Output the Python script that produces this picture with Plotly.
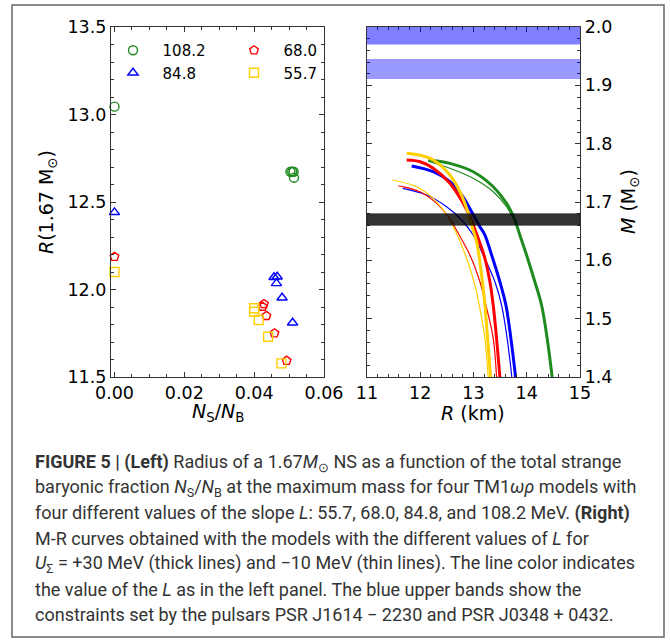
import plotly.graph_objects as go

# ---------------- data: left panel (R at 1.67 Msun vs strange fraction) ----------------
L_labels = ["108.2", "84.8", "68.0", "55.7"]
ns_1082 = [0.0, 0.0504, 0.0509, 0.0513, 0.0514]
r_1082 = [13.045, 12.673, 12.673, 12.673, 12.639]
ns_848 = [0.0, 0.0457, 0.0466, 0.0464, 0.0480, 0.0510]
r_848 = [12.441, 12.070, 12.073, 12.035, 11.953, 11.810]
ns_680 = [0.0, 0.0428, 0.0424, 0.0435, 0.0458, 0.0493]
r_680 = [12.187, 11.917, 11.902, 11.849, 11.750, 11.593]
ns_557 = [0.0, 0.0400, 0.0400, 0.0413, 0.0440, 0.0478]
r_557 = [12.100, 11.893, 11.873, 11.826, 11.730, 11.578]

# ---------------- data: right panel (M-R curves) ----------------
# thick lines: U_Sigma = +30 MeV
R_thick_557 = [11.745, 12.000, 12.244, 12.557, 12.745, 12.871, 12.964, 13.058, 13.152, 13.214, 13.265, 13.321]
M_thick_557 = [1.7835, 1.7800, 1.7720, 1.7463, 1.7176, 1.6892, 1.6606, 1.6319, 1.5748, 1.5234, 1.4663, 1.4000]
R_thick_680 = [11.745, 12.000, 12.244, 12.557, 12.807, 12.932, 13.030, 13.214, 13.308, 13.370, 13.433, 13.495]
M_thick_680 = [1.7720, 1.7690, 1.7578, 1.7320, 1.6977, 1.6748, 1.6520, 1.6035, 1.5633, 1.5234, 1.4663, 1.4000]
R_thick_848 = [11.839, 12.244, 12.557, 12.777, 12.964, 13.120, 13.214, 13.340, 13.495, 13.608, 13.702, 13.790]
M_thick_848 = [1.7617, 1.7519, 1.7348, 1.7120, 1.6834, 1.6576, 1.6434, 1.6091, 1.5633, 1.5234, 1.4663, 1.4000]
R_thick_1082 = [12.150, 12.557, 12.994, 13.370, 13.621, 13.777, 13.870, 13.996, 14.152, 14.278, 14.383, 14.477]
M_thick_1082 = [1.7720, 1.7663, 1.7519, 1.7262, 1.6977, 1.6691, 1.6434, 1.6091, 1.5633, 1.5234, 1.4663, 1.4000]
# thin lines: U_Sigma = -10 MeV
R_thin_557 = [11.482, 11.932, 12.244, 12.495, 12.651, 12.871, 13.026, 13.107, 13.214, 13.276]
M_thin_557 = [1.7377, 1.7262, 1.7063, 1.6777, 1.6520, 1.6035, 1.5577, 1.5234, 1.4663, 1.4000]
R_thin_680 = [11.587, 11.681, 11.994, 12.308, 12.525, 12.713, 12.932, 13.120, 13.233, 13.370, 13.433]
M_thin_680 = [1.7274, 1.7262, 1.7176, 1.6977, 1.6748, 1.6463, 1.6091, 1.5633, 1.5234, 1.4663, 1.4000]
R_thin_848 = [11.670, 12.120, 12.495, 12.777, 12.994, 13.182, 13.402, 13.527, 13.632, 13.720]
M_thin_848 = [1.7235, 1.7120, 1.6919, 1.6691, 1.6434, 1.6091, 1.5633, 1.5234, 1.4663, 1.4000]
R_thin_1082 = [12.150, 12.557, 12.994, 13.370, 13.621, 13.777, 13.870, 13.996, 14.152, 14.278, 14.383, 14.477]
M_thin_1082 = [1.7700, 1.7578, 1.7406, 1.7176, 1.6919, 1.6662, 1.6434, 1.6091, 1.5633, 1.5234, 1.4663, 1.4000]

# mass bands
band_J0348 = [1.97, 2.05]
band_J1614 = [1.911, 1.945]
band_167 = [1.66, 1.68]

caption_lines = [
    "<b>FIGURE 5 | (Left)</b> Radius of a 1.67<i>M</i><sub>⊙</sub> NS as a function of the total strange",
    "baryonic fraction <i>N</i><sub>S</sub>/<i>N</i><sub>B</sub> at the maximum mass for four TM1<i>ωρ</i> models with",
    "four different values of the slope <i>L</i>: 55.7, 68.0, 84.8, and 108.2 MeV. <b>(Right)</b>",
    "M-R curves obtained with the models with the different values of <i>L</i> for",
    "<i>U</i><sub>Σ</sub> = +30 MeV (thick lines) and −10 MeV (thin lines). The line color indicates",
    "the value of the <i>L</i> as in the left panel. The blue upper bands show the",
    "constraints set by the pulsars PSR J1614 − 2230 and PSR J0348 + 0432.",
]

# ---------------- styling ----------------
GREEN, BLUE, RED, YELLOW = "#1f8b1f", "#0000ff", "#ff0000", "#ffd000"
W, H = 670, 642
PL, PR, PT, PB = 111, 580, 27, 377


def fx(x):
    return (x - PL) / (PR - PL)


def fy(y):
    return (PB - y) / (PB - PT)


FONT = "DejaVu Sans"
SP = "\u2007"  # figure space: widens gap between legend symbol and label
fig = go.Figure()

marker_sets = [
    (ns_1082, r_1082, L_labels[0], GREEN, "circle-open", "legend"),
    (ns_848, r_848, L_labels[1], BLUE, "triangle-up-open", "legend"),
    (ns_680, r_680, L_labels[2], RED, "pentagon-open", "legend2"),
    (ns_557, r_557, L_labels[3], YELLOW, "square-open", "legend2"),
]
for xs, ys, name, col, sym, lg in marker_sets:
    fig.add_trace(go.Scatter(
        x=xs, y=ys, mode="markers", name=SP + name, legend=lg,
        marker=dict(symbol=sym, size=9, color=col, line=dict(width=1.4, color=col)),
        cliponaxis=False, xaxis="x", yaxis="y"))

curves = [
    (R_thick_1082, M_thick_1082, GREEN, 3.0),
    (R_thin_1082, M_thin_1082, GREEN, 1.2),
    (R_thick_848, M_thick_848, BLUE, 3.0),
    (R_thin_848, M_thin_848, BLUE, 1.2),
    (R_thick_680, M_thick_680, RED, 3.0),
    (R_thin_680, M_thin_680, RED, 1.2),
    (R_thick_557, M_thick_557, YELLOW, 3.0),
    (R_thin_557, M_thin_557, YELLOW, 1.2),
]
for xs, ys, col, lw in curves:
    fig.add_trace(go.Scatter(
        x=xs, y=ys, mode="lines", showlegend=False,
        line=dict(color=col, width=lw, shape="spline", smoothing=1.0),
        xaxis="x2", yaxis="y2"))

shapes = [
    dict(type="rect", xref="x2", yref="y2", x0=11, x1=15, y0=band_J0348[0], y1=band_J0348[1],
         fillcolor="rgba(0,0,255,0.5)", line=dict(width=0), layer="above"),
    dict(type="rect", xref="x2", yref="y2", x0=11, x1=15, y0=band_J1614[0], y1=band_J1614[1],
         fillcolor="rgba(0,0,255,0.4)", line=dict(width=0), layer="above"),
    dict(type="rect", xref="x2", yref="y2", x0=11, x1=15, y0=band_167[0], y1=band_167[1],
         fillcolor="rgba(0,0,0,0.8)", line=dict(width=1, color="rgba(0,0,0,0.45)"), layer="above"),
    # outer frame of the figure
    dict(type="rect", xref="paper", yref="paper", x0=fx(12), x1=fx(664), y0=fy(637), y1=fy(5),
         line=dict(color="#666666", width=1.5), fillcolor="rgba(0,0,0,0)", layer="below"),
]

axis_common = dict(
    showgrid=False, zeroline=False, showline=True, linecolor="#333333", linewidth=1.3,
    mirror="allticks", ticks="inside", ticklen=5, tickwidth=1, tickcolor="#333333",
    tickfont=dict(family=FONT, size=17.5, color="black"),
)

dom_split1 = (324 - PL) / (PR - PL)
dom_split2 = (367 - PL) / (PR - PL)

fig.update_layout(
    width=W, height=H,
    margin=dict(l=PL, r=W - PR, t=PT, b=H - PB, pad=0),
    paper_bgcolor="white", plot_bgcolor="white",
    xaxis=dict(domain=[0, dom_split1], range=[-0.001, 0.06], tick0=0, dtick=0.02, tickformat=".2f",
               minor=dict(dtick=0.005, ticks="inside", ticklen=3, tickcolor="#333333"),
               anchor="y", **axis_common),
    yaxis=dict(domain=[0, 1], range=[11.5, 13.5], tick0=11.5, dtick=0.5, tickformat=".1f",
               minor=dict(dtick=0.1, ticks="inside", ticklen=3, tickcolor="#333333"),
               anchor="x", **axis_common),
    xaxis2=dict(domain=[dom_split2, 1], range=[11, 15], tick0=11, dtick=1,
                minor=dict(dtick=0.2, ticks="inside", ticklen=3, tickcolor="#333333"),
                anchor="y2", **axis_common),
    yaxis2=dict(domain=[0, 1], range=[1.4, 2.0], tick0=1.4, dtick=0.1, tickformat=".1f", side="right",
                minor=dict(dtick=0.02, ticks="inside", ticklen=3, tickcolor="#333333"),
                anchor="x2", **axis_common),
    shapes=shapes,
    legend=dict(x=fx(113), y=fy(34), xanchor="left", yanchor="top", bgcolor="rgba(0,0,0,0)",
                font=dict(family=FONT, size=15, color="black"), tracegroupgap=0),
    legend2=dict(x=fx(234), y=fy(34), xanchor="left", yanchor="top", bgcolor="rgba(0,0,0,0)",
                 font=dict(family=FONT, size=15, color="black"), tracegroupgap=0),
    hovermode=False,
)

ann = []
ttl = dict(family=FONT, size=19, color="black")
ann.append(dict(text="<i>R</i>(1.67 M<sub>⊙</sub>)", x=fx(47), y=fy(202), xref="paper", yref="paper",
                showarrow=False, textangle=-90, font=ttl, xanchor="center", yanchor="middle"))
ann.append(dict(text="<i>N</i><sub>S</sub>/<i>N</i><sub>B</sub>", x=fx(218), y=fy(413), xref="paper",
                yref="paper", showarrow=False, font=ttl, xanchor="center", yanchor="middle"))
ann.append(dict(text="<i>R</i> (km)", x=fx(473), y=fy(413), xref="paper", yref="paper",
                showarrow=False, font=ttl, xanchor="center", yanchor="middle"))
ann.append(dict(text="<i>M</i> (M<sub>⊙</sub>)", x=fx(629), y=fy(202), xref="paper", yref="paper",
                showarrow=False, textangle=-90, font=ttl, xanchor="center", yanchor="middle"))
for i, line in enumerate(caption_lines):
    ann.append(dict(text=line, x=fx(33), y=fy(463 + 25.2 * i), xref="paper", yref="paper",
                    showarrow=False, xanchor="left", yanchor="middle", align="left",
                    font=dict(family="Roboto", size=18, color="#333333")))
fig.update_layout(annotations=ann)

fig.write_html("out.html")
